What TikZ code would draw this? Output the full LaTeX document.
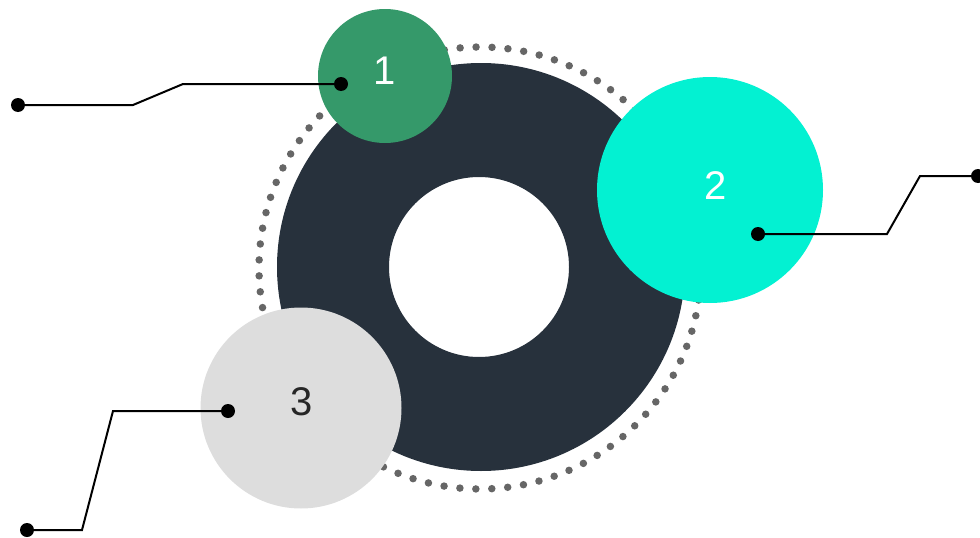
\documentclass[tikz,border=0pt]{standalone}
\usepackage{fontspec}
\setmainfont{Liberation Sans}
\usetikzlibrary{calc}

\definecolor{ringdark}{HTML}{27313C}
\definecolor{bubgreen}{HTML}{35996A}
\definecolor{bubcyan}{HTML}{03F1D2}
\definecolor{bubgrey}{HTML}{DDDDDD}
\definecolor{dotgrey}{HTML}{666666}

\begin{document}
\begin{tikzpicture}[x=1pt,y=-1pt,inner sep=0pt,
  bub/.style={circle,minimum size=#1},
  num/.style={font=\fontsize{40}{40}\selectfont},
  pin/.style={circle,fill=black,minimum size=14pt},
  lead/.style={line width=2pt}]
\useasboundingbox (0,0) rectangle (980,538);
% dotted ring and donut
\draw [dotgrey,line width=7.5pt,line cap=round,dash pattern=on 0pt off 15.96pt] (480,268) circle (221pt);
\fill [ringdark,even odd rule] (481,267) circle (204pt) (479,267) circle (90pt);
% bubbles
\node [bub=134pt,fill=bubgreen] (B1) at (385,76)  {};
\node [bub=226pt,fill=bubcyan]  (B2) at (710,190) {};
\node [bub=201pt,fill=bubgrey]  (B3) at (301,408) {};
\node [num,text=white]         (N1) at (385,71)  {1};
\node [num,text=white]         (N2) at (716,186) {2};
\node [num,text=black!85]      (N3) at (302,402) {3};
% pins
\node [pin] (P1a) at (341,84)  {};
\node [pin] (P1b) at (18,105)  {};
\node [pin] (P2a) at (758,234) {};
\node [pin] (P2b) at (978,176) {};
\node [pin] (P3a) at (228,411) {};
\node [pin] (P3b) at (27,530)  {};
\draw [lead] (P1a.center) -- (183,84)  -- (133,105) -- (P1b.center);
\draw [lead] (P2a.center) -- (887,234) -- (920,176) -- (P2b.center);
\draw [lead] (P3a.center) -- (113,411) -- (82,530)  -- (P3b.center);
\end{tikzpicture}
\end{document}
